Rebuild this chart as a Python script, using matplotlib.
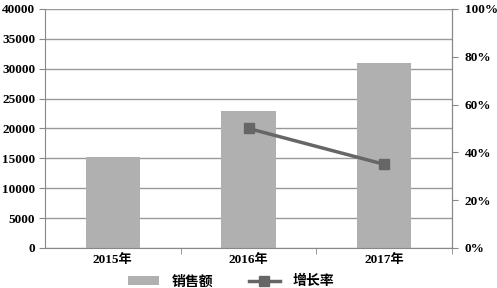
import matplotlib
matplotlib.use('Agg')
import matplotlib.pyplot as plt
from matplotlib.ticker import FuncFormatter

# 数据
years = ['2015年', '2016年', '2017年']
sales = [15300, 23000, 31000]
growth_years = ['2016年', '2017年']
growth = [0.50, 0.35]

plt.rcParams['font.family'] = ['Liberation Serif', 'Noto Sans CJK SC']

fig = plt.figure(figsize=(4.97, 2.88), dpi=100)
ax = fig.add_axes([0.0905, 0.139, 0.819, 0.83])
ax2 = ax.twinx()

x = list(range(len(years)))
bars = ax.bar(x, sales, width=0.4, color='#b0b0b0', label='销售额', zorder=2)
gx = [years.index(y) for y in growth_years]
line, = ax2.plot(gx, growth, color='#666666', lw=2.5, marker='s', markersize=7,
                 label='增长率', zorder=3)

ax.set_xlim(-0.5, 2.5)
ax.set_ylim(0, 40000)
ax.set_yticks(range(0, 40001, 5000))
ax.grid(axis='y', color='#999999', lw=1)
ax.set_axisbelow(True)
ax2.set_ylim(0, 1)
ax2.set_yticks([0, 0.2, 0.4, 0.6, 0.8, 1.0])
ax2.yaxis.set_major_formatter(FuncFormatter(lambda v, p: '{:.0f}%'.format(v * 100)))

ax.set_xticks(x)
ax.set_xticklabels(years)
ax.set_xticks([0.5, 1.5, 2.5], minor=True)
ax.tick_params(axis='x', which='major', length=0, pad=4)
ax.tick_params(axis='x', which='minor', length=4, color='#888888')
ax.tick_params(axis='y', length=4, color='#888888', pad=3)
ax2.tick_params(axis='y', length=4, color='#888888', pad=5)

for a in (ax, ax2):
    a.spines['top'].set_visible(False)
    for s in ('left', 'right', 'bottom'):
        a.spines[s].set_color('#888888')
ax2.spines['left'].set_visible(False)
ax2.spines['bottom'].set_visible(False)

for lbl in ax.get_yticklabels() + ax2.get_yticklabels() + ax.get_xticklabels():
    lbl.set_fontweight('bold')
    lbl.set_fontsize(9.5)

fig.legend([bars, line], ['销售额', '增长率'], loc='lower center', ncol=2,
           bbox_to_anchor=(0.465, -0.045), frameon=False,
           handlelength=2.2, handletextpad=0.9, columnspacing=2.6,
           prop={'family': ['Noto Sans CJK SC'], 'size': 10, 'weight': 'bold'})

fig.savefig('out.png', dpi=100)
